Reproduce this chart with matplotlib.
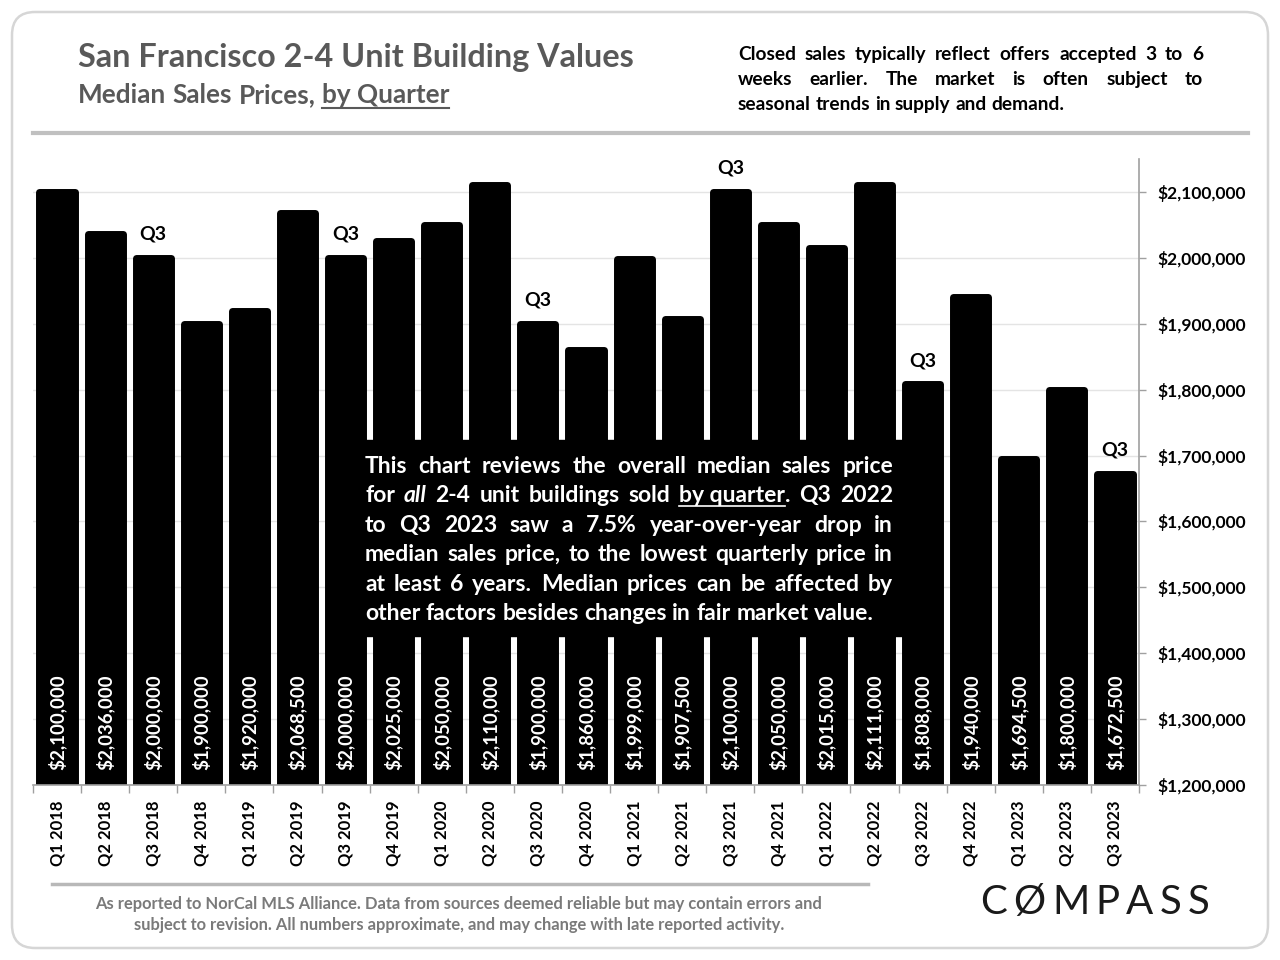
import matplotlib
matplotlib.use('Agg')
import matplotlib.pyplot as plt
from matplotlib.patches import Rectangle, FancyBboxPatch
from matplotlib.lines import Line2D
from matplotlib.ticker import FuncFormatter

# ---------------- data ----------------
quarters = ['Q1 2018', 'Q2 2018', 'Q3 2018', 'Q4 2018',
            'Q1 2019', 'Q2 2019', 'Q3 2019', 'Q4 2019',
            'Q1 2020', 'Q2 2020', 'Q3 2020', 'Q4 2020',
            'Q1 2021', 'Q2 2021', 'Q3 2021', 'Q4 2021',
            'Q1 2022', 'Q2 2022', 'Q3 2022', 'Q4 2022',
            'Q1 2023', 'Q2 2023', 'Q3 2023']
prices = [2100000, 2036000, 2000000, 1900000,
          1920000, 2068500, 2000000, 2025000,
          2050000, 2110000, 1900000, 1860000,
          1999000, 1907500, 2100000, 2050000,
          2015000, 2111000, 1808000, 1940000,
          1694500, 1800000, 1672500]
y_ticks = [1200000, 1300000, 1400000, 1500000, 1600000,
           1700000, 1800000, 1900000, 2000000, 2100000]
y_min, y_max = 1200000, 2150000

title = 'San Francisco 2-4 Unit Building Values'
note_lines = [
    'Closed sales typically reflect offers accepted 3 to 6',
    'weeks earlier. The market is often subject to',
    'seasonal trends in supply and demand.',
]
box_lines = [
    [[('This', '')], [('chart', '')], [('reviews', '')], [('the', '')], [('overall', '')],
     [('median', '')], [('sales', '')], [('price', '')]],
    [[('for', '')], [('all', 'i')], [('2-4', '')], [('unit', '')], [('buildings', '')],
     [('sold', '')], [('by quarter', 'u'), ('.', '')], [('Q3', '')], [('2022', '')]],
    [[(w, '')] for w in 'to Q3 2023 saw a 7.5% year-over-year drop in'.split()],
    [[(w, '')] for w in 'median sales price, to the lowest quarterly price in'.split()],
    [[(w, '')] for w in 'at least 6 years. Median prices can be affected by'.split()],
    [[(w, '')] for w in 'other factors besides changes in fair market value.'.split()],
]
footer_lines = [
    'As reported to NorCal MLS Alliance. Data from sources deemed reliable but may contain errors and',
    'subject to revision. All numbers approximate, and may change with late reported activity.',
]

# ---------------- figure ----------------
W, H = 1280, 960
plt.rcParams['font.family'] = ['Lato', 'DejaVu Sans']
fig = plt.figure(figsize=(W / 100, H / 100), dpi=100)
fig.patch.set_facecolor('white')
renderer = fig.canvas.get_renderer()


def fx(px):
    return px / W


def fy(py):
    return 1 - py / H


def width_px(s, **kw):
    t = fig.text(0, 0, s, **kw)
    w = t.get_window_extent(renderer).width
    t.remove()
    return w


def draw_line(words, x0, x1, y, justify, size, color, weight='bold', zorder=6,
              ul_offset=3.5, ul_lw=1.2):
    total = 0
    seg_w = []
    for word in words:
        ws = []
        for seg, st in word:
            kw = dict(fontsize=size, color=color, fontweight=weight,
                      fontstyle='italic' if st == 'i' else 'normal')
            w = width_px(seg, **kw)
            ws.append((seg, st, kw, w))
            total += w
        seg_w.append(ws)
    space = width_px('a a', fontsize=size, fontweight=weight) - 2 * width_px('a', fontsize=size, fontweight=weight)
    n = len(words)
    if justify and n > 1:
        gap = (x1 - x0 - total) / (n - 1)
    else:
        gap = space
    x = x0
    for ws in seg_w:
        for seg, st, kw, w in ws:
            fig.text(fx(x), fy(y), seg, ha='left', va='baseline', zorder=zorder, **kw)
            if st == 'u':
                fig.add_artist(Line2D([fx(x), fx(x + w)], [fy(y + ul_offset)] * 2,
                                      transform=fig.transFigure, color=color,
                                      lw=ul_lw, zorder=zorder))
            x += w
        x += gap


# outer rounded border
fig.add_artist(FancyBboxPatch((fx(12), fy(948)), fx(1268) - fx(12), fy(12) - fy(948),
                              boxstyle='round,pad=0,rounding_size=0.018',
                              mutation_aspect=W / H,
                              transform=fig.transFigure, fill=False,
                              ec='#d6d6d6', lw=1.8, zorder=0))

# ---------------- axes ----------------
ax = fig.add_axes([fx(33), fy(785), fx(1139) - fx(33), fy(159) - fy(785)])
xpos = list(range(len(quarters)))
ax.bar(xpos, prices, width=0.73, color='black', edgecolor='black',
       linewidth=5, joinstyle='round', zorder=2)
ax.set_xlim(-0.5, len(quarters) - 0.5)
ax.set_ylim(y_min, y_max)

for s in ['left', 'top']:
    ax.spines[s].set_visible(False)
for s in ['right', 'bottom']:
    ax.spines[s].set_color('#a0a0a0')
    ax.spines[s].set_linewidth(1.2)
    ax.spines[s].set_zorder(3)

ax.yaxis.tick_right()
ax.set_yticks(y_ticks)
ax.yaxis.set_major_formatter(FuncFormatter(lambda v, p: f'${v:,.0f}'))
ax.tick_params(axis='y', direction='out', length=5, width=1, color='#a0a0a0',
               pad=8, labelsize=12.5)
for lab in ax.get_yticklabels():
    lab.set_fontweight('bold')

ax.set_xticks(xpos)
ax.set_xticklabels(quarters, rotation=90, fontweight='bold', fontsize=12)
ax.tick_params(axis='x', which='major', length=0, pad=11)
ax.set_xticks([i - 0.5 for i in range(len(quarters) + 1)], minor=True)
ax.tick_params(axis='x', which='minor', length=6, width=1, color='#a0a0a0', direction='out')

ax.yaxis.grid(True, color='#e4e4e4', lw=1)
ax.set_axisbelow(True)

for i, v in enumerate(prices):
    ax.annotate(f'${v:,.0f}', xy=(i, y_min), xytext=(0, 11), textcoords='offset points',
                rotation=90, ha='center', va='bottom', color='white',
                fontsize=13.5, fontweight='bold', zorder=3)
    if quarters[i].startswith('Q3'):
        ax.annotate('Q3', xy=(i, v), xytext=(0, 11), textcoords='offset points',
                    ha='center', va='bottom', color='black',
                    fontsize=14, fontweight='bold', zorder=3)

# ---------------- header ----------------
fig.text(fx(78), fy(67), title, ha='left', va='baseline', fontsize=23.3,
         fontweight='bold', color='#595959')
draw_line([[('Median', '')], [('Sales', '')], [('Prices,', '')], [('by Quarter', 'u')]],
          78, 452, 103, False, 18.8, '#595959', ul_offset=5, ul_lw=1.5)
for k, line in enumerate(note_lines):
    draw_line([[(w, '')] for w in line.split()], 738, 1203, 60 + 25 * k,
              k < len(note_lines) - 1, 13.8, 'black')

fig.add_artist(Line2D([fx(33), fx(1248)], [fy(133)] * 2, transform=fig.transFigure,
                      color='#c0c0c0', lw=3, zorder=1))

# ---------------- annotation box ----------------
fig.add_artist(Rectangle((fx(355), fy(636)), fx(905) - fx(355), fy(440) - fy(636),
                         transform=fig.transFigure, color='black', zorder=5))
for k, line in enumerate(box_lines):
    draw_line(line, 365, 893, 473 + 29.4 * k, k < len(box_lines) - 1, 16.5, 'white')

# ---------------- footer ----------------
fig.add_artist(Line2D([fx(52), fx(868)], [fy(884)] * 2, transform=fig.transFigure,
                      color='#b8b8b8', lw=2.5, zorder=1))
for k, line in enumerate(footer_lines):
    fig.text(fx(459), fy(909 + 21 * k), line, ha='center', va='baseline',
             fontsize=11.9, fontweight='bold', color='#7a7a7a')

draw_line([[(c, '')] for c in 'CØMPASS'], 980, 1210, 914, True, 29, '#1a1a1a',
          weight='normal')

fig.savefig('out.png', dpi=100, facecolor='white')
